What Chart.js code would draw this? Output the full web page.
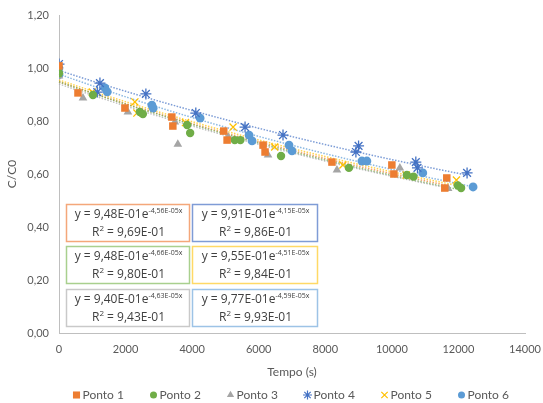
<!DOCTYPE html>
<html>
<head>
<meta charset="utf-8">
<script src="https://cdn.jsdelivr.net/npm/chart.js@4"></script>
<style>
html,body{margin:0;padding:0;background:#fff;}
canvas{display:block;}
</style>
</head>
<body>
<canvas id="c" width="543" height="403"></canvas>
<script>
// ---- data ----
const seriesNames = ['Ponto 1', 'Ponto 2', 'Ponto 3', 'Ponto 4', 'Ponto 5', 'Ponto 6'];

const p1Time = [0, 570, 1980, 3390, 3420, 4950, 5050, 6130, 6190, 8200, 10000, 10060, 11590, 11650];
const p1Conc = [1.008, 0.906, 0.849, 0.815, 0.781, 0.762, 0.728, 0.709, 0.683, 0.645, 0.634, 0.600, 0.547, 0.585];

const p2Time = [0, 1020, 2430, 2520, 3850, 3940, 5280, 5450, 6670, 8710, 10450, 10650, 11980, 12080];
const p2Conc = [0.980, 0.898, 0.834, 0.826, 0.785, 0.755, 0.728, 0.728, 0.668, 0.623, 0.596, 0.590, 0.557, 0.547];

const p3Time = [0, 720, 2070, 3480, 3570, 5080, 6280, 8350, 10240, 11690];
const p3Conc = [0.970, 0.887, 0.834, 0.796, 0.712, 0.740, 0.672, 0.615, 0.623, 0.545];

const p4Time = [0, 1150, 1230, 2610, 4110, 5590, 6730, 8920, 9000, 10720, 10770, 12260];
const p4Conc = [1.015, 0.909, 0.943, 0.902, 0.830, 0.777, 0.747, 0.683, 0.706, 0.645, 0.623, 0.604];

const p5Time = [0, 1000, 2280, 2340, 3800, 5230, 6480, 8530, 10430, 11940];
const p5Conc = [0.990, 0.909, 0.872, 0.830, 0.794, 0.777, 0.702, 0.634, 0.596, 0.577];

const p6Time = [0, 0, 1380, 1450, 2790, 2830, 4240, 5710, 5800, 6910, 7000, 9100, 9250, 10930, 12440];
const p6Conc = [1.000, 0.975, 0.925, 0.910, 0.860, 0.849, 0.811, 0.747, 0.725, 0.709, 0.687, 0.649, 0.649, 0.604, 0.551];

// exponential trendline coefficients y = a * e^(b x)
const fitA = [0.948, 0.948, 0.940, 0.991, 0.955, 0.977];
const fitB = [-4.56e-5, -4.66e-5, -4.63e-5, -4.15e-5, -4.51e-5, -4.59e-5];
const fitR2 = [0.969, 0.980, 0.943, 0.986, 0.984, 0.993];

const xTickLabels = ['0', '2000', '4000', '6000', '8000', '10000', '12000', '14000'];
const yTickLabels = ['0,00', '0,20', '0,40', '0,60', '0,80', '1,00', '1,20'];

// ---- styles ----
const colors = ['#ED7D31', '#70AD47', '#A5A5A5', '#4472C4', '#FFC000', '#5B9BD5'];
const boxBorders = ['#F4A77A', '#A9D08E', '#C9C9C9', '#7F9CD6', '#FFD966', '#9DC3E6'];
const pointStyles = ['rect', 'circle', 'triangle', 'star', 'crossRot', 'circle'];
const pointRadii = [5.3, 4.2, 5, 5.5, 5, 4.4];
const legendRadii = [5, 3.5, 4.2, 4.5, 4.5, 3.5];

const times = [p1Time, p2Time, p3Time, p4Time, p5Time, p6Time];
const concs = [p1Conc, p2Conc, p3Conc, p4Conc, p5Conc, p6Conc];

const FONT = 'Lato, "Open Sans", sans-serif';
const BOXFONT = '"Open Sans", Lato, sans-serif';
const TXT = '#595959';

function sci(v) {
  const e = Math.floor(Math.log10(Math.abs(v)));
  let m = v / Math.pow(10, e);
  const ea = Math.abs(e);
  return m.toFixed(2).replace('.', ',') + 'E' + (e < 0 ? '-' : '+') + (ea < 10 ? '0' : '') + ea;
}
function hexA(hex, a) {
  const n = parseInt(hex.slice(1), 16);
  return 'rgba(' + (n >> 16 & 255) + ',' + (n >> 8 & 255) + ',' + (n & 255) + ',' + a + ')';
}
function isLineStyle(s) { return s === 'star' || s === 'crossRot'; }

const datasets = seriesNames.map((name, i) => ({
  label: name,
  data: times[i].map((t, k) => ({ x: t, y: concs[i][k] })),
  showLine: false,
  pointStyle: pointStyles[i],
  pointRadius: pointRadii[i],
  pointHoverRadius: pointRadii[i],
  backgroundColor: colors[i],
  borderColor: colors[i],
  borderWidth: isLineStyle(pointStyles[i]) ? 1.3 : 0
}));

const trendPlugin = {
  id: 'trend',
  beforeDatasetsDraw(chart) {
    const ctx = chart.ctx, xs = chart.scales.x, ys = chart.scales.y;
    ctx.save();
    ctx.lineWidth = 1.5;
    ctx.setLineDash([1.5, 1.5]);
    for (let i = 0; i < seriesNames.length; i++) {
      const t0 = Math.min(...times[i]), t1 = Math.max(...times[i]);
      ctx.strokeStyle = hexA(colors[i], 0.7);
      ctx.beginPath();
      const n = 60;
      for (let k = 0; k <= n; k++) {
        const t = t0 + (t1 - t0) * k / n;
        const px = xs.getPixelForValue(t);
        const py = ys.getPixelForValue(fitA[i] * Math.exp(fitB[i] * t));
        if (k === 0) ctx.moveTo(px, py); else ctx.lineTo(px, py);
      }
      ctx.stroke();
    }
    ctx.restore();
  }
};

// equation boxes: order in grid (row-major): P1,P4 / P2,P5 / P3,P6
const boxOrder = [0, 3, 1, 4, 2, 5];
const boxPlugin = {
  id: 'eqBoxes',
  afterDraw(chart) {
    const ctx = chart.ctx;
    const colsX = [66, 192], w = [123, 125];
    const rowsY = [204, 246, 289], h = 37;
    ctx.save();
    boxOrder.forEach((si, idx) => {
      const c = idx % 2, r = Math.floor(idx / 2);
      const x = colsX[c], y = rowsY[r], bw = w[c];
      ctx.fillStyle = '#ffffff';
      ctx.fillRect(x, y, bw, h);
      ctx.lineWidth = 1.5;
      ctx.strokeStyle = boxBorders[si];
      ctx.strokeRect(x + 0.5, y + 0.5, bw, h);
      const main = 'y = ' + sci(fitA[si]) + 'e';
      const sup = sci(fitB[si]) + 'x';
      ctx.fillStyle = '#404040';
      ctx.textBaseline = 'alphabetic';
      ctx.textAlign = 'left';
      ctx.font = '12px ' + BOXFONT;
      const mw = ctx.measureText(main).width;
      ctx.font = '7px ' + BOXFONT;
      const sw = ctx.measureText(sup).width;
      const sx = x + (bw - mw - sw) / 2 + 1;
      ctx.font = '12px ' + BOXFONT;
      ctx.fillText(main, sx, y + 14);
      ctx.font = '7px ' + BOXFONT;
      ctx.fillText(sup, sx + mw, y + 8.5);
      // second line
      ctx.font = '12px ' + BOXFONT;
      const l2a = 'R', l2b = ' = ' + sci(fitR2[si]);
      const aw = ctx.measureText(l2a).width;
      const bw2 = ctx.measureText(l2b).width;
      ctx.font = '8px ' + BOXFONT;
      const supw = ctx.measureText('2').width;
      const tx = x + (bw - aw - supw - bw2) / 2 + 1;
      ctx.font = '12px ' + BOXFONT;
      ctx.fillText(l2a, tx, y + 32);
      ctx.font = '8px ' + BOXFONT;
      ctx.fillText('2', tx + aw, y + 27);
      ctx.font = '12px ' + BOXFONT;
      ctx.fillText(l2b, tx + aw + supw, y + 32);
    });
    ctx.restore();
  }
};

// custom bottom legend
const legendPlugin = {
  id: 'bottomLegend',
  afterDraw(chart) {
    const ctx = chart.ctx;
    const step = 77;
    const ca = chart.chartArea;
    const center = (ca.left + ca.right) / 2;
    const n = seriesNames.length;
    const firstMarker = center - step * (n - 1) / 2 - 23;
    const ly = 395;
    ctx.save();
    ctx.font = '12px ' + FONT;
    ctx.textBaseline = 'middle';
    ctx.textAlign = 'left';
    for (let i = 0; i < n; i++) {
      const mx = firstMarker + i * step;
      ctx.fillStyle = colors[i];
      ctx.strokeStyle = colors[i];
      const opts = { pointStyle: pointStyles[i], radius: legendRadii[i], borderWidth: isLineStyle(pointStyles[i]) ? 1.2 : 0, rotation: 0 };
      if (Chart.helpers && Chart.helpers.drawPoint) {
        ctx.lineWidth = opts.borderWidth;
        Chart.helpers.drawPoint(ctx, opts, mx, ly);
      } else {
        ctx.fillRect(mx - 3.5, ly - 3.5, 7, 7);
      }
      ctx.fillStyle = TXT;
      ctx.fillText(seriesNames[i], mx + 6, ly + 0.5);
    }
    ctx.restore();
  }
};

new Chart(document.getElementById('c'), {
  type: 'scatter',
  data: { datasets },
  plugins: [trendPlugin, boxPlugin, legendPlugin],
  options: {
    responsive: false,
    animation: false,
    layout: { padding: { top: 15, right: 18, left: 0, bottom: 24 } },
    plugins: {
      tooltip: { enabled: false },
      legend: { display: false }
    },
    scales: {
      x: {
        type: 'linear',
        min: 0, max: 14000,
        ticks: {
          stepSize: 2000,
          color: TXT,
          font: { family: FONT, size: 11 },
          padding: 10,
          maxRotation: 0,
          callback: (v) => xTickLabels[Math.round(v / 2000)]
        },
        grid: { display: false, drawTicks: false },
        border: { display: true, color: '#BFBFBF', width: 1 },
        title: { display: true, text: 'Tempo (s)', color: TXT, font: { family: FONT, size: 12 }, padding: { top: 6, bottom: 0 } },
        afterFit(s) { s.height = 46; s.paddingLeft = 0; s.paddingRight = 0; }
      },
      y: {
        min: 0, max: 1.2,
        ticks: {
          stepSize: 0.2,
          color: TXT,
          font: { family: FONT, size: 11 },
          padding: 10,
          callback: (v) => yTickLabels[Math.round(v / 0.2)]
        },
        grid: { display: false, drawTicks: false },
        border: { display: true, color: '#BFBFBF', width: 1 },
        title: { display: true, text: 'C/C0', color: TXT, font: { family: FONT, size: 12 }, padding: { top: 5, bottom: 8 } },
        afterFit(s) { s.width = 59; s.paddingTop = 0; s.paddingBottom = 0; }
      }
    }
  }
});
</script>
</body>
</html>
